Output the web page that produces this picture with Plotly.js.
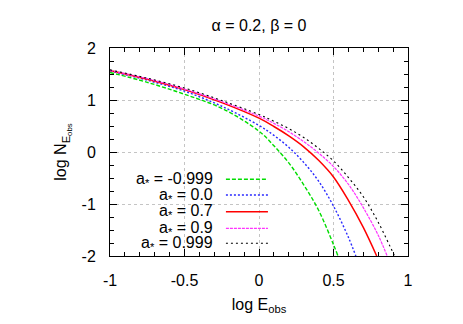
<!DOCTYPE html>
<html>
<head>
<meta charset="utf-8">
<script src="https://cdn.plot.ly/plotly-3.0.1.min.js"></script>
<style>
  html, body { margin: 0; padding: 0; background: #fff; }
  #chart { width: 463px; height: 324px; }
</style>
</head>
<body>
<div id="chart"></div>
<script>
// log N_Eobs vs log E_obs for several spins
var spinLabels = ['-0.999', '0.0', '0.7', '0.9', '0.999'];

var xGreen = [-1, -0.75, -0.5, -0.25, 0, 0.1, 0.2, 0.3, 0.4, 0.5, 0.53];
var yGreen = [1.53, 1.34, 1.11, 0.84, 0.40, 0.12, -0.21, -0.63, -1.12, -1.78, -2.0];

var xBlue = [-1, -0.75, -0.5, -0.25, 0, 0.1, 0.2, 0.3, 0.4, 0.5, 0.6, 0.65];
var yBlue = [1.56, 1.38, 1.17, 0.88, 0.51, 0.32, 0.09, -0.20, -0.56, -1.04, -1.64, -2.0];

var xRed = [-1, -0.75, -0.5, -0.25, 0, 0.1, 0.2, 0.3, 0.4, 0.5, 0.6, 0.7, 0.79];
var yRed = [1.57, 1.40, 1.20, 0.95, 0.65, 0.49, 0.31, 0.10, -0.16, -0.48, -0.93, -1.45, -2.0];

var xMagenta = [-1, -0.75, -0.5, -0.25, 0, 0.1, 0.2, 0.3, 0.4, 0.5, 0.6, 0.7, 0.8, 0.86];
var yMagenta = [1.57, 1.41, 1.21, 0.97, 0.69, 0.55, 0.39, 0.20, -0.02, -0.28, -0.62, -1.07, -1.60, -2.0];

var xBlack = [-1, -0.75, -0.5, -0.25, 0, 0.1, 0.2, 0.3, 0.4, 0.5, 0.6, 0.7, 0.8, 0.9, 0.91];
var yBlack = [1.58, 1.42, 1.23, 0.99, 0.72, 0.59, 0.45, 0.28, 0.07, -0.17, -0.49, -0.86, -1.35, -1.94, -2.0];

var xTicks = [-1, -0.5, 0, 0.5, 1];
var xTickText = ['-1', '-0.5', '0', '0.5', '1'];
var yTicks = [-2, -1, 0, 1, 2];
var yTickText = ['-2', '-1', '0', '1', '2'];

var colors = ['#00dd00', '#2a2aff', '#ff0000', '#ff33ff', '#000000'];
var dashes = ['4px,2px', '2px,2px', 'solid', '3px,1px', '2px,3px'];
var widths = [1.4, 1.4, 1.5, 1.2, 1.1];

var xs = [xGreen, xBlue, xRed, xMagenta, xBlack];
var ys = [yGreen, yBlue, yRed, yMagenta, yBlack];

var FONT = 'Liberation Sans, Arial, sans-serif';

var data = [];
var shapes = [];
var annotations = [];
var legendY = [0.369, 0.293, 0.213, 0.133, 0.061];

for (var i = 0; i < xs.length; i++) {
  data.push({
    x: xs[i], y: ys[i],
    type: 'scatter', mode: 'lines',
    line: {color: colors[i], width: widths[i], dash: dashes[i], shape: 'spline', smoothing: 1},
    name: 'a* = ' + spinLabels[i],
    hoverinfo: 'x+y+name'
  });
  annotations.push({
    xref: 'paper', yref: 'paper', x: 0.352, y: legendY[i],
    xanchor: 'right', yanchor: 'middle', showarrow: false,
    text: 'a<sub>*</sub> = ' + spinLabels[i],
    font: {family: FONT, size: 16, color: '#000'}
  });
  shapes.push({
    type: 'line', xref: 'paper', yref: 'paper',
    x0: 0.389, x1: 0.530, y0: legendY[i], y1: legendY[i],
    line: {color: colors[i], width: widths[i], dash: dashes[i]}
  });
}

var axisCommon = {
  showline: true, linecolor: '#000', linewidth: 1, mirror: 'allticks',
  ticks: 'inside', ticklen: 7, tickcolor: '#000', tickwidth: 1,
  showgrid: true, gridcolor: '#c4c4c4', griddash: 'dot', gridwidth: 1,
  zeroline: false, tickfont: {family: FONT, size: 16, color: '#000'},
  ticklabelstandoff: 10
};

var layout = {
  width: 463, height: 324,
  margin: {l: 110, r: 55, t: 48, b: 68},
  paper_bgcolor: '#fff', plot_bgcolor: '#fff',
  showlegend: false,
  font: {family: FONT, size: 16, color: '#000'},
  title: {
    text: 'α = 0.2, β = 0',
    font: {family: FONT, size: 16, color: '#000'},
    x: 0.5, xref: 'paper', y: 0.922, yref: 'container', yanchor: 'middle'
  },
  xaxis: Object.assign({}, axisCommon, {
    range: [-1, 1], tickvals: xTicks, ticktext: xTickText,
    minor: {dtick: 0.1, ticklen: 4, ticks: 'inside', tickcolor: '#000', showgrid: false},
    title: {text: 'log E<sub>obs</sub>', font: {family: FONT, size: 16}, standoff: 10}
  }),
  yaxis: Object.assign({}, axisCommon, {
    range: [-2, 2], tickvals: yTicks, ticktext: yTickText,
    minor: {dtick: 0.25, ticklen: 4, ticks: 'inside', tickcolor: '#000', showgrid: false},
    title: {text: 'log N<sub>E<sub>obs</sub></sub>', font: {family: FONT, size: 16}, standoff: 10}
  }),
  shapes: shapes,
  annotations: annotations
};

Plotly.newPlot('chart', data, layout, {displayModeBar: false, staticPlot: true});
</script>
</body>
</html>
